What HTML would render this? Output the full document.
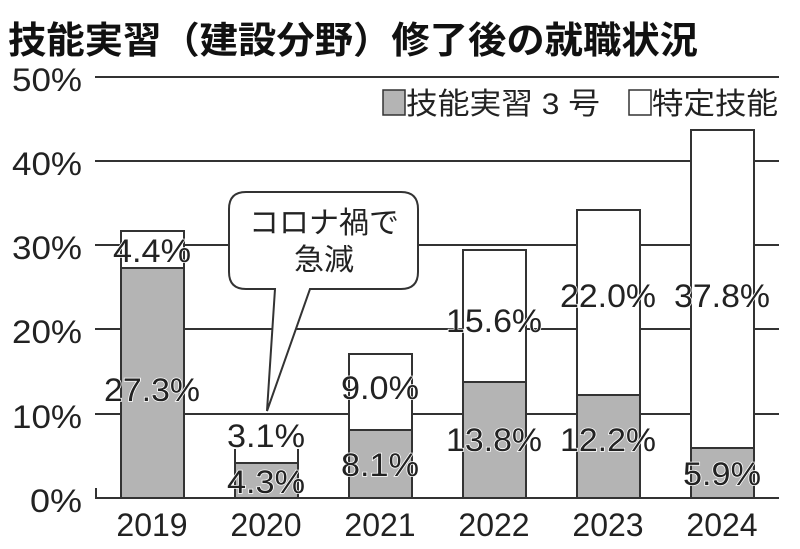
<!DOCTYPE html>
<html><head><meta charset="utf-8"><style>
html,body{margin:0;padding:0;background:#fff;}
svg{display:block;}
.t{font-family:"Liberation Sans","Noto Sans CJK JP",sans-serif;}
.lbl{font-family:"Liberation Sans","Noto Sans CJK JP",sans-serif;font-size:32px;fill:#222;stroke:#fff;stroke-width:1.5px;paint-order:stroke;text-anchor:middle;}
.ax{font-family:"Liberation Sans","Noto Sans CJK JP",sans-serif;font-size:32px;fill:#222;}
</style></head><body>
<svg width="800" height="549" viewBox="0 0 800 549">
<text x="8" y="53" class="t" font-size="37" font-weight="bold" fill="#111" textLength="690" lengthAdjust="spacingAndGlyphs">技能実習（建設分野）修了後の就職状況</text>
<g stroke="#333" stroke-width="2">
<line x1="95" y1="77" x2="779" y2="77"/>
<line x1="95" y1="161" x2="779" y2="161"/>
<line x1="95" y1="245" x2="779" y2="245"/>
<line x1="95" y1="329" x2="779" y2="329"/>
<line x1="95" y1="414" x2="779" y2="414"/>
<line x1="95" y1="498" x2="779" y2="498"/>
<line x1="96" y1="488" x2="96" y2="498"/>
</g>
<g class="ax" text-anchor="end">
<text x="82" y="91" textLength="70" lengthAdjust="spacingAndGlyphs">50%</text>
<text x="82" y="175" textLength="70" lengthAdjust="spacingAndGlyphs">40%</text>
<text x="82" y="259" textLength="70" lengthAdjust="spacingAndGlyphs">30%</text>
<text x="82" y="343" textLength="70" lengthAdjust="spacingAndGlyphs">20%</text>
<text x="82" y="428" textLength="70" lengthAdjust="spacingAndGlyphs">10%</text>
<text x="82" y="512" textLength="52" lengthAdjust="spacingAndGlyphs">0%</text>
</g>
<g class="ax" text-anchor="middle" font-size="33">
<text x="152" y="536">2019</text>
<text x="266" y="536">2020</text>
<text x="380" y="536">2021</text>
<text x="494" y="536">2022</text>
<text x="608" y="536">2023</text>
<text x="722" y="536">2024</text>
</g>
<rect x="383" y="90" width="22" height="25" fill="#b4b4b4" stroke="#333" stroke-width="1.5"/>
<text x="406" y="114" class="t" font-size="30" fill="#222" textLength="194" lengthAdjust="spacingAndGlyphs">技能実習 3 号</text>
<rect x="629" y="90" width="22" height="25" fill="#fff" stroke="#333" stroke-width="1.5"/>
<text x="652" y="114" class="t" font-size="30" fill="#222" textLength="126" lengthAdjust="spacingAndGlyphs">特定技能</text>
<g stroke="#333" stroke-width="2">
<rect x="121" y="231" width="63" height="37" fill="#fff"/>
<rect x="121" y="268" width="63" height="230" fill="#b4b4b4"/>
<line x1="235" y1="449" x2="235" y2="463"/><line x1="298" y1="449" x2="298" y2="463"/>
<rect x="235" y="463" width="63" height="35" fill="#b4b4b4"/>
<rect x="349" y="354" width="63" height="76" fill="#fff"/>
<rect x="349" y="430" width="63" height="68" fill="#b4b4b4"/>
<rect x="463" y="250" width="63" height="132" fill="#fff"/>
<rect x="463" y="382" width="63" height="116" fill="#b4b4b4"/>
<rect x="577" y="210" width="63" height="185" fill="#fff"/>
<rect x="577" y="395" width="63" height="103" fill="#b4b4b4"/>
<rect x="691" y="130" width="63" height="318" fill="#fff"/>
<rect x="691" y="448" width="63" height="50" fill="#b4b4b4"/>
</g>
<path d="M246 192 H401 Q418 192 418 209 V272 Q418 289 401 289 H310 L267 411 L275 289 H246 Q229 289 229 272 V209 Q229 192 246 192 Z" fill="#fff" stroke="#333" stroke-width="2"/>
<text x="324" y="233" class="t" font-size="30" fill="#222" text-anchor="middle">コロナ禍で</text>
<text x="324" y="270" class="t" font-size="30" fill="#222" text-anchor="middle">急減</text>
<g>
<text class="lbl" x="152" y="262" textLength="78" lengthAdjust="spacingAndGlyphs">4.4%</text>
<text class="lbl" x="152" y="401" textLength="96" lengthAdjust="spacingAndGlyphs">27.3%</text>
<text class="lbl" x="266" y="447" textLength="78" lengthAdjust="spacingAndGlyphs">3.1%</text>
<text class="lbl" x="266" y="493" textLength="78" lengthAdjust="spacingAndGlyphs">4.3%</text>
<text class="lbl" x="380" y="399" textLength="78" lengthAdjust="spacingAndGlyphs">9.0%</text>
<text class="lbl" x="380" y="476" textLength="78" lengthAdjust="spacingAndGlyphs">8.1%</text>
<text class="lbl" x="494" y="332" textLength="96" lengthAdjust="spacingAndGlyphs">15.6%</text>
<text class="lbl" x="494" y="451" textLength="96" lengthAdjust="spacingAndGlyphs">13.8%</text>
<text class="lbl" x="608" y="307" textLength="96" lengthAdjust="spacingAndGlyphs">22.0%</text>
<text class="lbl" x="608" y="451" textLength="96" lengthAdjust="spacingAndGlyphs">12.2%</text>
<text class="lbl" x="722" y="307" textLength="96" lengthAdjust="spacingAndGlyphs">37.8%</text>
<text class="lbl" x="722" y="485" textLength="78" lengthAdjust="spacingAndGlyphs">5.9%</text>
</g>
</svg>
</body></html>
